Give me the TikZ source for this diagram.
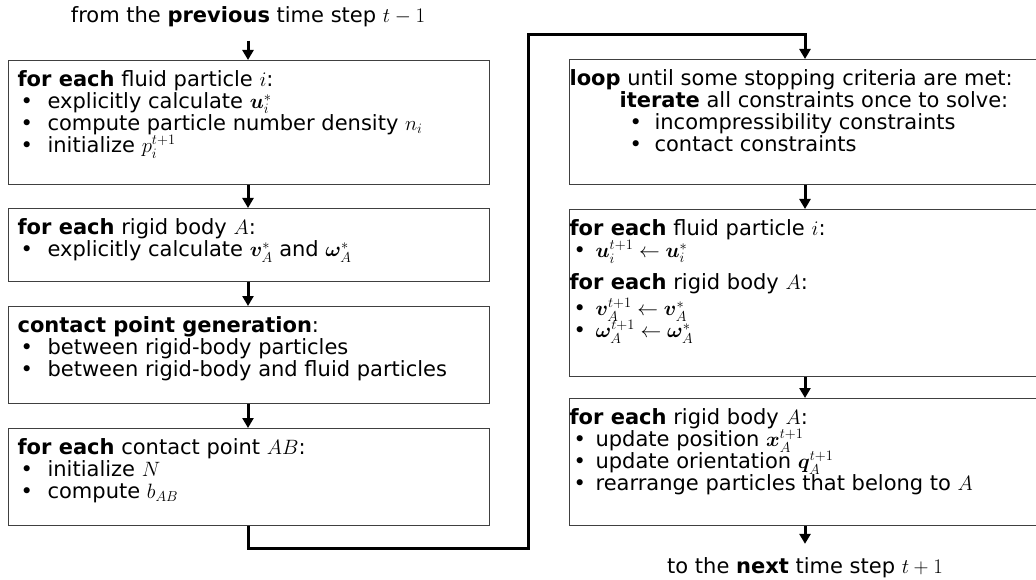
\documentclass[tikz,border=0pt]{standalone}
\usepackage{amsmath}
\usepackage{bm}
\usepackage{fontspec}
\setmainfont{DejaVu Sans}
\usetikzlibrary{arrows.meta,positioning}

\newcommand{\fe}{\textbf{for each}}
\newcommand{\itl}{\hspace*{3pt}\makebox[27pt][l]{•}}
\newcommand{\itr}{\hspace*{4pt}\makebox[22pt][l]{•}}
\newcommand{\fl}{\rule{0pt}{26pt}}
\newcommand{\lbox}[2]{\parbox[c][#1pt][t]{463pt}{\lineskiplimit=-20pt #2}}
\newcommand{\rbox}[2]{\parbox[c][#1pt][t]{472pt}{\lineskiplimit=-20pt #2}}

\tikzset{
  stepbox/.style={draw=black!75, line width=1.2pt, inner ysep=0pt, anchor=north west, align=left},
  leftbox/.style={stepbox, inner xsep=9pt},
  rightbox/.style={stepbox, inner xsep=0pt},
  flow/.style={line width=3pt, -{Triangle[length=10pt,width=11pt]}},
  tag/.style={inner xsep=0pt, inner ysep=13pt},
}

\begin{document}
\begin{tikzpicture}[x=1pt, y=-1pt, font=\fontsize{21}{22}\selectfont]
    \useasboundingbox (0,0) rectangle (1036,580);
    \clip (0,0) rectangle (1036,580);

    % left column
    \node (prev) [tag, anchor=base] at (248,23) {from the \textbf{previous} time step $t-1$};
    \node (fluid) [leftbox] at (8,60) {\lbox{124}{\fl\fe{} fluid particle $i$:\\
        \itl explicitly calculate $\bm{u}_i^*$\\
        \itl compute particle number density $n_i$\\
        \itl initialize $p_i^{t+1}$}};
    \node (rigid) [leftbox] at (8,208) {\lbox{73}{\fl\fe{} rigid body $A$:\\
        \itl explicitly calculate $\bm{v}_A^*$ and $\bm{\omega}_A^*$}};
    \node (contact) [leftbox] at (8,306) {\lbox{97}{\fl\textbf{contact point generation}:\\
        \itl between rigid-body particles\\
        \itl between rigid-body and fluid particles}};
    \node (point) [leftbox] at (8,428) {\lbox{97}{\fl\fe{} contact point $AB$:\\
        \itl initialize $N$\\
        \itl compute $b_{AB}$}};

    % right column
    \node (solve) [rightbox] at (569,59) {\rbox{125}{\fl\textbf{loop} until some stopping criteria are met:\\
        \hspace*{50pt}\textbf{iterate} all constraints once to solve:\\
        \hspace*{60pt}\makebox[25pt][l]{•}incompressibility constraints\\
        \hspace*{60pt}\makebox[25pt][l]{•}contact constraints}};
    \node (velocity) [rightbox] at (569,209) {\rbox{167}{\fl\fe{} fluid particle $i$:\\
        \itr $\bm{u}_i^{t+1} \leftarrow \bm{u}_i^*$\\[10pt]
        \fe{} rigid body $A$:\\[4pt]
        \itr $\bm{v}_A^{t+1} \leftarrow \bm{v}_A^*$\\
        \itr $\bm{\omega}_A^{t+1} \leftarrow \bm{\omega}_A^*$}};
    \node (update) [rightbox] at (569,398) {\rbox{127}{\fl\fe{} rigid body $A$:\\
        \itr update position $\bm{x}_A^{t+1}$\\
        \itr update orientation $\bm{q}_A^{t+1}$\\
        \itr rearrange particles that belong to $A$}};
    \node (next) [tag, anchor=base] at (805,573) {to the \textbf{next} time step $t+1$};

    \coordinate (loopbottom) at (528,548);
    \coordinate (looptop) at (528,35);

    \draw[flow] (prev) -- (fluid.north -| prev);
    \draw[flow] (fluid.south -| prev) -- (rigid.north -| prev);
    \draw[flow] (rigid.south -| prev) -- (contact.north -| prev);
    \draw[flow] (contact.south -| prev) -- (point.north -| prev);
    \draw[flow] (point.south -| prev) |- (loopbottom) -- (looptop) -| (solve.north -| next);
    \draw[flow] (solve.south -| next) -- (velocity.north -| next);
    \draw[flow] (velocity.south -| next) -- (update.north -| next);
    \draw[flow] (update.south -| next) -- (next);
\end{tikzpicture}
\end{document}
